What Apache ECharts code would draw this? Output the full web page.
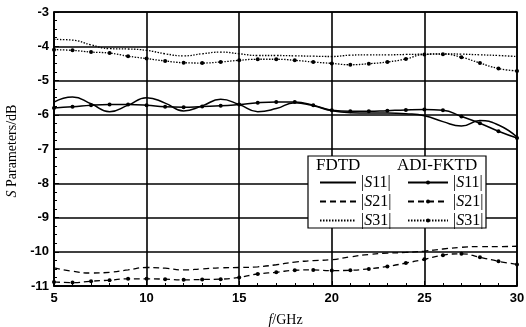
<!DOCTYPE html>
<html><head><meta charset="utf-8">
<script src="https://cdn.jsdelivr.net/npm/echarts@6/dist/echarts.min.js"></script>
<style>html,body{margin:0;padding:0;background:#fff}#c{width:526px;height:327px}</style>
</head><body><div id="c"></div>
<script>
const freq = [5,6,7,8,9,10,11,12,13,14,15,16,17,18,19,20,21,22,23,24,25,26,27,28,29,30];
const fdtdS11 = [-5.63,-5.48,-5.68,-5.91,-5.72,-5.5,-5.66,-5.89,-5.74,-5.55,-5.7,-5.91,-5.82,-5.65,-5.74,-5.88,-5.94,-5.95,-5.95,-5.97,-6.03,-6.2,-6.33,-6.17,-6.3,-6.65];
const fdtdS21 = [-10.47,-10.57,-10.62,-10.6,-10.53,-10.46,-10.48,-10.53,-10.5,-10.47,-10.46,-10.44,-10.38,-10.3,-10.26,-10.23,-10.15,-10.08,-10.04,-10.02,-9.98,-9.92,-9.87,-9.85,-9.85,-9.84];
const fdtdS31 = [-3.8,-3.82,-3.96,-4.07,-4.08,-4.12,-4.22,-4.28,-4.22,-4.17,-4.22,-4.27,-4.27,-4.28,-4.29,-4.3,-4.26,-4.25,-4.25,-4.24,-4.23,-4.22,-4.23,-4.25,-4.27,-4.3];
const adiS11 = [-5.8,-5.77,-5.72,-5.7,-5.7,-5.72,-5.77,-5.78,-5.76,-5.74,-5.7,-5.65,-5.63,-5.63,-5.72,-5.87,-5.9,-5.9,-5.88,-5.86,-5.85,-5.87,-6.05,-6.25,-6.48,-6.68];
const adiS21 = [-10.88,-10.9,-10.86,-10.83,-10.79,-10.79,-10.8,-10.82,-10.81,-10.8,-10.75,-10.65,-10.6,-10.54,-10.53,-10.55,-10.54,-10.5,-10.43,-10.33,-10.22,-10.1,-10.06,-10.16,-10.28,-10.37];
const adiS31 = [-4.1,-4.12,-4.17,-4.2,-4.29,-4.36,-4.43,-4.48,-4.49,-4.46,-4.41,-4.38,-4.38,-4.41,-4.46,-4.5,-4.54,-4.51,-4.46,-4.37,-4.24,-4.23,-4.32,-4.49,-4.65,-4.72];
const xTicks = [5,10,15,20,25,30];
const yTicks = [-11,-10,-9,-8,-7,-6,-5,-4,-3];

const pair = arr => freq.map((f,i)=>[f,arr[i]]);
const serif = '"Liberation Serif","DejaVu Serif",serif';
const sans = '"Liberation Sans",Arial,sans-serif';
function mk(name, data, type, adi){
  return {
    name, type:'line', data: pair(data), smooth: 0.5,
    symbol: adi ? 'circle' : 'none', symbolSize: 4, showSymbol: !!adi,
    itemStyle:{color:'#000'},
    lineStyle:{color:'#000', width: type==='solid'?1.5:1.3, type: type==='solid'?'solid':(type==='dashed'?[6,4]:[1.5,1.5])},
    z: 5, silent:true, animation:false
  };
}
const legendFmt = n => '|{i|S}' + n.slice(-2) + '|';
const richI = {i:{fontStyle:'italic',fontFamily:serif,fontSize:16,color:'#000',lineHeight:19}};
const chart = echarts.init(document.getElementById('c'), null, {renderer:'canvas'});
chart.setOption({
  animation:false,
  backgroundColor:'#fff',
  grid:{left:54,right:9,top:12,bottom:41,outerBoundsMode:'none',containLabel:false,show:true,borderColor:'#000',borderWidth:1.5,backgroundColor:'transparent'},
  xAxis:{type:'value',min:xTicks[0],max:xTicks[xTicks.length-1],interval:5,
    axisLine:{show:true,lineStyle:{color:'#000',width:1.5}},
    axisTick:{show:true,inside:true,length:5,lineStyle:{color:'#000'}},
    minorTick:{show:true,splitNumber:5,length:3,lineStyle:{color:'#000'}},
    splitLine:{show:true,lineStyle:{color:'#000',width:1.6}},
    axisLabel:{color:'#000',fontFamily:sans,fontSize:13,fontWeight:'bold',margin:6},
    name:'{i|f}/GHz',nameLocation:'middle',nameGap:27,
    nameTextStyle:{color:'#000',fontFamily:serif,fontSize:14,rich:{i:{fontStyle:'italic',fontFamily:serif,fontSize:14,color:'#000'}}}
  },
  yAxis:{type:'value',min:yTicks[0],max:yTicks[yTicks.length-1],interval:1,
    axisLine:{show:true,lineStyle:{color:'#000',width:1.5}},
    axisTick:{show:true,inside:true,length:5,lineStyle:{color:'#000'}},
    minorTick:{show:true,splitNumber:4,length:3,lineStyle:{color:'#000'}},
    splitLine:{show:true,lineStyle:{color:'#000',width:1.6}},
    axisLabel:{color:'#000',fontFamily:sans,fontSize:13,fontWeight:'bold',margin:5}
  },
  legend:[
    {left:314,top:168,orient:'vertical',itemWidth:36,itemHeight:5,itemGap:0,z:20,
     itemStyle:{color:'rgba(0,0,0,0)',borderWidth:0},
     data:['FDTD S11','FDTD S21','FDTD S31'],formatter:legendFmt,
     textStyle:{color:'#000',fontFamily:serif,fontSize:16,lineHeight:19,rich:richI}},
    {left:402,top:168,orient:'vertical',itemWidth:40,itemHeight:5,itemGap:0,z:20,
     data:['ADI S11','ADI S21','ADI S31'],formatter:legendFmt,
     textStyle:{color:'#000',fontFamily:serif,fontSize:16,lineHeight:19,rich:richI}}
  ],
  graphic:[
    {type:'rect',z:15,shape:{x:308,y:156,width:178,height:72},style:{fill:'#fff',stroke:'#000',lineWidth:1.2}},
    {type:'text',z:20,left:316,top:157,style:{text:'FDTD',font:'17px '+serif,fill:'#000'}},
    {type:'text',z:20,left:397,top:157,style:{text:'ADI-FKTD',font:'17px '+serif,fill:'#000'}},
    {type:'text',z:20,x:12,y:151,rotation:Math.PI/2,
     style:{text:'{i|S} Parameters/dB',align:'center',verticalAlign:'middle',fill:'#000',font:'14px '+serif,
       rich:{i:{fontStyle:'italic',fontFamily:serif,fontSize:14,fill:'#000'}}}}
  ],
  series:[
    mk('FDTD S11',fdtdS11,'solid',false),
    mk('FDTD S21',fdtdS21,'dashed',false),
    mk('FDTD S31',fdtdS31,'dotted',false),
    mk('ADI S11',adiS11,'solid',true),
    mk('ADI S21',adiS21,'dashed',true),
    mk('ADI S31',adiS31,'dotted',true)
  ]
});
</script></body></html>
